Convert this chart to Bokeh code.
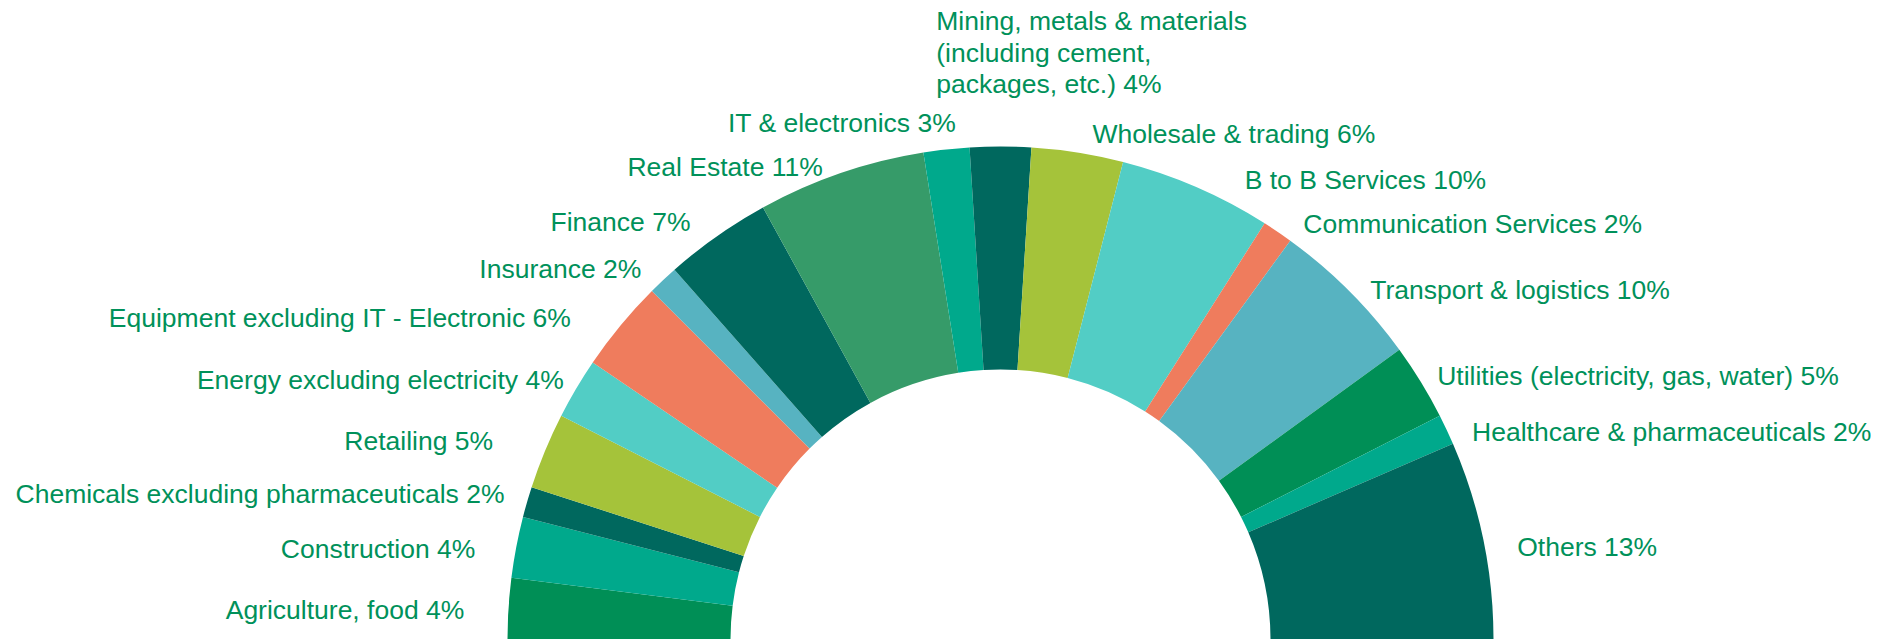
import math
import textwrap
from bokeh.plotting import figure
from bokeh.models import Range1d, ColumnDataSource
from bokeh.core.properties import value
from bokeh.embed import file_html
from bokeh.resources import INLINE

# ---------------- data ----------------
categories = [
    "Agriculture, food",
    "Construction",
    "Chemicals excluding pharmaceuticals",
    "Retailing",
    "Energy excluding electricity",
    "Equipment excluding IT - Electronic",
    "Insurance",
    "Finance",
    "Real Estate",
    "IT & electronics",
    "Mining, metals & materials (including cement, packages, etc.)",
    "Wholesale & trading",
    "B to B Services",
    "Communication Services",
    "Transport & logistics",
    "Utilities (electricity, gas, water)",
    "Healthcare & pharmaceuticals",
    "Others",
]
shares = [4, 4, 2, 5, 4, 6, 2, 7, 11, 3, 4, 6, 10, 2, 10, 5, 2, 13]

# ---------------- styles / layout ----------------
GREEN, TEAL, DARK, LIME = "#008F56", "#00A98C", "#00685E", "#A5C33A"
TURQ, SALMON, BLUE, MEDGREEN = "#52CDC5", "#EF7C5D", "#57B3C1", "#369B69"
colors = [GREEN, TEAL, DARK, LIME, TURQ, SALMON, BLUE, DARK, MEDGREEN,
          TEAL, DARK, LIME, TURQ, SALMON, BLUE, GREEN, TEAL, DARK]
label_shift_deg = [0.4, 1.0, -0.2, 1.1, -0.1, 2.8, 0.9, 1.5, 1.7, -1.4,
                   6.6, -1.3, -4.6, -1.9, -1.6, -0.4, -1.5, -1.5]
label_radius = [537, 533, 517, 545, 508, 536, 516, 520, 505, 518,
                559, 514, 520, 514, 509, 510, 515, 525]
TEXT_COLOR = "#00915A"
FONT = "Liberation Sans"
FONT_SIZE = "26.5px"
LINE_H = 31.5

W, H = 1885, 639
CX, CY = 1000, 0
R_OUT, R_IN = 493, 270

p = figure(width=W, height=H, output_backend="svg", toolbar_location=None,
           x_range=Range1d(0, W), y_range=Range1d(0, H),
           min_border=0, x_axis_location=None, y_axis_location=None)
p.outline_line_color = None
p.grid.visible = False
p.background_fill_color = "white"
p.border_fill_color = "white"

total = float(sum(shares))
starts, ends, mids = [], [], []
cum = 0.0
for s in shares:
    a_end = math.pi * (1 - cum / total)
    cum += s
    a_start = math.pi * (1 - cum / total)
    starts.append(a_start)
    ends.append(a_end)
    mids.append((a_start + a_end) / 2)

src = ColumnDataSource(dict(start=starts, end=ends, color=colors,
                            cat=categories, share=shares))
p.annular_wedge(x=CX, y=CY, inner_radius=R_IN, outer_radius=R_OUT,
                start_angle="start", end_angle="end", color="color",
                line_color=None, source=src)

tx, ty, tt, ta = [], [], [], []
for i, (cat, s) in enumerate(zip(categories, shares)):
    label = f"{cat} {s}%"
    lines = textwrap.wrap(label, 26) if len(label) > 45 else [label]
    ang = mids[i] + math.radians(label_shift_deg[i])
    x = CX + label_radius[i] * math.cos(ang)
    y = CY + label_radius[i] * math.sin(ang)
    align = "right" if math.degrees(mids[i]) > 90.5 else "left"
    n = len(lines)
    for k, line in enumerate(lines):
        tx.append(x)
        ty.append(y + (n - 1 - k) * LINE_H)
        tt.append(line)
        ta.append(align)

lsrc = ColumnDataSource(dict(x=tx, y=ty, text=tt, align=ta))
p.text(x="x", y="y", text="text", text_align="align", text_baseline="middle",
       text_font=value(FONT), text_font_size=FONT_SIZE, text_color=TEXT_COLOR,
       source=lsrc)

open("out.html", "w").write(file_html(p, INLINE))
